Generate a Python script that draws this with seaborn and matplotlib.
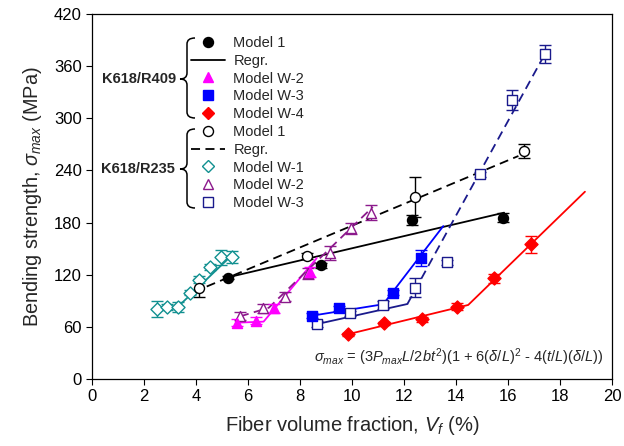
import numpy as np
import pandas as pd
import matplotlib
matplotlib.use("Agg")
import matplotlib.pyplot as plt
from matplotlib.lines import Line2D
from matplotlib.path import Path
from matplotlib.patches import PathPatch
import seaborn as sns

# ---- K618/R409 ----
m1_409_x = [5.23, 8.8, 12.3, 15.82]
m1_409_y = [116.6, 131.0, 183.0, 185.6]
m1_409_e = [2, 3, 6, 5]
reg_409_x = [5.23, 15.85]
reg_409_y = [117.0, 191.4]

w2_409_x = [5.56, 6.30, 7.01, 8.38]
w2_409_y = [64.8, 67.0, 81.3, 123.0]
w2_409_e = [4, 4, 5, 6]
w2_409_fit_x = [5.56, 6.6, 8.64]
w2_409_fit_y = [64.8, 66.0, 139.0]

w3_409_x = [8.45, 9.50, 11.59, 12.64]
w3_409_y = [72.8, 81.3, 99.3, 138.9]
w3_409_e = [3, 3, 3, 9]
w3_409_fit_x = [8.45, 11.2, 13.51]
w3_409_fit_y = [72.8, 86.0, 176.0]

w4_409_x = [9.83, 11.24, 12.68, 14.03, 15.46, 16.87]
w4_409_y = [51.4, 64.1, 68.7, 83.2, 115.9, 155.0]
w4_409_e = [2, 2, 3, 4, 5, 10]
w4_409_fit_x = [9.83, 14.47, 18.96]
w4_409_fit_y = [51.4, 85.2, 215.5]

# ---- K618/R235 ----
m1_235_x = [4.12, 8.26, 12.42, 16.62]
m1_235_y = [104.7, 141.5, 209.8, 262.0]
m1_235_e = [10, 3, 23, 8]
reg_235_x = [3.9, 16.4]
reg_235_y = [100.0, 256.6]

w1_235_x = [2.5, 2.88, 3.3, 3.75, 4.13, 4.52, 4.97, 5.4]
w1_235_y = [80.5, 82.9, 82.9, 99.3, 114.0, 129.0, 140.0, 140.0]
w1_235_e = [9, 3, 6, 3, 4, 3, 9, 7]
w1_235_fit_x = [2.5, 3.3, 5.4]
w1_235_fit_y = [79.0, 83.0, 143.0]

w2_235_x = [5.69, 6.59, 7.42, 8.32, 9.15, 9.95, 10.72]
w2_235_y = [72.5, 81.3, 94.7, 121.6, 144.6, 173.4, 191.4]
w2_235_e = [5, 5, 5, 6, 8, 6, 9]
w2_235_fit_x = [5.69, 6.8, 10.8]
w2_235_fit_y = [72.0, 82.0, 198.0]

w3_235_x = [8.67, 9.92, 11.2, 12.42, 13.67, 14.92, 16.14, 17.42]
w3_235_y = [63.3, 75.6, 85.2, 105.0, 134.3, 235.6, 321.0, 374.0]
w3_235_e = [4, 3, 5, 11, 3, 3, 12, 10]
w3_235_low_x = [8.67, 12.13]
w3_235_low_y = [63.3, 86.3]
w3_235_up_x = [12.13, 17.42]
w3_235_up_y = [86.3, 374.0]

xticks = np.arange(0, 21, 2)
yticks = np.arange(0, 421, 60)

BLACK = "black"
MAGENTA = "#ff00ff"
BLUE = "#0000ff"
RED = "#ff0000"
TEAL = "#119090"
PURPLE = "#8c1a8c"
NAVY = "#1a1a8c"
DASH = (0, (5, 3))


def fit(ax, x, y, color, ls="-"):
    sns.lineplot(x=x, y=y, ax=ax, color=color, linestyle=ls, lw=1.3,
                 sort=False, estimator=None, zorder=2)


def pts(ax, x, y, e, color, marker, filled, s=52):
    ax.errorbar(x, y, yerr=e, fmt="none", ecolor=color, elinewidth=1,
                capsize=4, capthick=1, zorder=3)
    face = color if filled else "white"
    sns.scatterplot(x=x, y=y, ax=ax, marker=marker, s=s, color=color,
                    facecolor=face, edgecolor=color, linewidth=1,
                    legend=False, zorder=4)


def brace(fig, x_tip, x_bar, x_end, y_top, y_mid, y_bot):
    W, H = fig.bbox.width, fig.bbox.height
    r = 6
    verts = [(x_end, y_top), (x_bar, y_top), (x_bar, y_top + r),
             (x_bar, y_mid - r), (x_bar, y_mid), (x_tip, y_mid),
             (x_bar, y_mid), (x_bar, y_mid + r),
             (x_bar, y_bot - r), (x_bar, y_bot), (x_end, y_bot)]
    codes = [Path.MOVETO, Path.CURVE3, Path.CURVE3,
             Path.LINETO, Path.CURVE3, Path.CURVE3,
             Path.CURVE3, Path.CURVE3,
             Path.LINETO, Path.CURVE3, Path.CURVE3]
    verts = [(vx / W, 1 - vy / H) for vx, vy in verts]
    fig.add_artist(PathPatch(Path(verts, codes), fill=False, lw=1.1,
                             edgecolor="black", transform=fig.transFigure))


def main():
    sns.set_style("ticks")
    plt.rcParams["font.family"] = ["Liberation Sans", "DejaVu Sans"]
    plt.rcParams["mathtext.fontset"] = "custom"
    plt.rcParams["mathtext.rm"] = "Liberation Sans"
    plt.rcParams["mathtext.it"] = "Liberation Sans:italic"
    plt.rcParams["mathtext.bf"] = "Liberation Sans:bold"

    fig = plt.figure(figsize=(6.24, 4.46), dpi=100)
    ax = fig.add_axes([92 / 624, 1 - 379 / 446, 520 / 624, 365 / 446])

    fit(ax, reg_409_x, reg_409_y, BLACK)
    fit(ax, reg_235_x, reg_235_y, BLACK, DASH)
    fit(ax, w1_235_fit_x, w1_235_fit_y, TEAL)
    fit(ax, w2_409_fit_x, w2_409_fit_y, MAGENTA)
    fit(ax, w2_235_fit_x, w2_235_fit_y, PURPLE, DASH)
    fit(ax, w3_409_fit_x, w3_409_fit_y, BLUE)
    fit(ax, w3_235_low_x, w3_235_low_y, NAVY)
    fit(ax, w3_235_up_x, w3_235_up_y, NAVY, DASH)
    fit(ax, w4_409_fit_x, w4_409_fit_y, RED)

    pts(ax, w1_235_x, w1_235_y, w1_235_e, TEAL, "D", False, s=44)
    pts(ax, w2_235_x, w2_235_y, w2_235_e, PURPLE, "^", False)
    pts(ax, w3_235_x, w3_235_y, w3_235_e, NAVY, "s", False, s=44)
    pts(ax, m1_235_x, m1_235_y, m1_235_e, BLACK, "o", False)
    pts(ax, w2_409_x, w2_409_y, w2_409_e, MAGENTA, "^", True)
    pts(ax, w3_409_x, w3_409_y, w3_409_e, BLUE, "s", True, s=44)
    pts(ax, w4_409_x, w4_409_y, w4_409_e, RED, "D", True, s=44)
    pts(ax, m1_409_x, m1_409_y, m1_409_e, BLACK, "o", True)

    ax.set_xlim(0, 20)
    ax.set_ylim(0, 420)
    ax.set_xticks(xticks)
    ax.set_yticks(yticks)
    ax.tick_params(labelsize=12, length=4, width=0.8, colors="black")
    for sp in ax.spines.values():
        sp.set_color("black")
        sp.set_linewidth(0.9)
    ax.set_xlabel("Fiber volume fraction, $V_f$ (%)", fontsize=14.5,
                  labelpad=7)
    ax.set_ylabel(r"Bending strength, $\sigma_{max}$ (MPa)", fontsize=14.3,
                  labelpad=7)

    ax.text(0.983, 0.06,
            r"$\sigma_{max}$ = (3$P_{max}L$/2$bt^2$)(1 + 6($\delta/L$)$^2$"
            r" - 4($t/L$)($\delta/L$))",
            transform=ax.transAxes, ha="right", va="center", fontsize=10.5)

    def h(marker, color, filled, ls="none", ms=7.2):
        return Line2D([], [], marker=marker, color=color, ls=ls, ms=ms,
                      markerfacecolor=color if filled else "white",
                      markeredgecolor=color, lw=1.3)

    handles = [h("o", BLACK, True), Line2D([], [], color=BLACK, lw=1.3),
               h("^", MAGENTA, True), h("s", BLUE, True, ms=6.6),
               h("D", RED, True, ms=6.6),
               h("o", BLACK, False), Line2D([], [], color=BLACK, lw=1.3,
                                           ls=DASH),
               h("D", TEAL, False, ms=6.6), h("^", PURPLE, False),
               h("s", NAVY, False, ms=6.6)]
    labels = ["Model 1", "Regr.", "Model W-2", "Model W-3", "Model W-4",
              "Model 1", "Regr.", "Model W-1", "Model W-2", "Model W-3"]
    ax.legend(handles, labels, loc="upper left", frameon=False,
              bbox_to_anchor=(191 / 624, 1 - 36 / 446),
              bbox_transform=fig.transFigure, borderpad=0, borderaxespad=0,
              fontsize=10.5, handlelength=2.35, handletextpad=0.55,
              labelspacing=0.26)

    brace(fig, 180, 187, 195, 38, 79, 118)
    brace(fig, 180, 187, 195, 129, 169, 208)
    fig.text(176 / 624, 1 - 79 / 446, "K618/R409", ha="right", va="center",
             fontsize=10.5, fontweight="bold")
    fig.text(175 / 624, 1 - 169 / 446, "K618/R235", ha="right", va="center",
             fontsize=10.5, fontweight="bold")

    fig.savefig("out.png", dpi=100)


if __name__ == "__main__":
    main()
